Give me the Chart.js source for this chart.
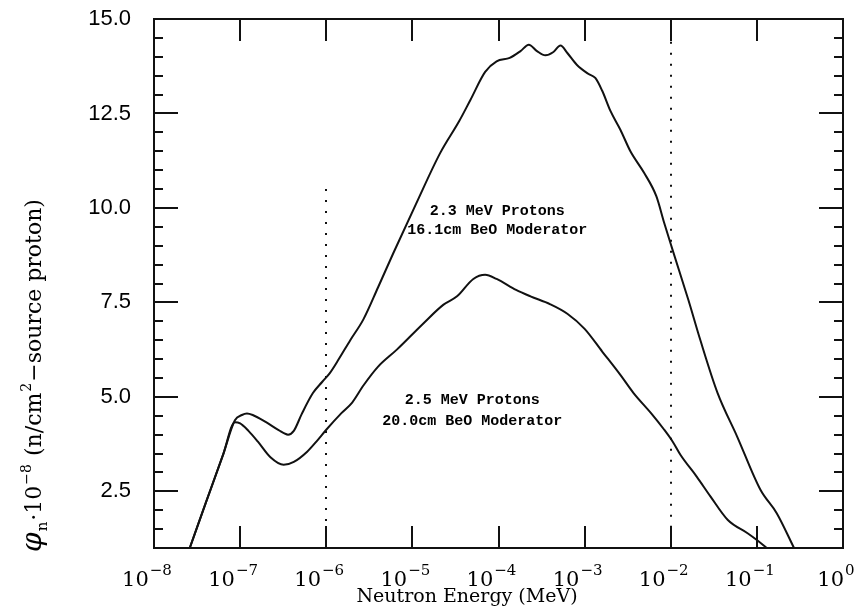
<!DOCTYPE html>
<html>
<head>
<meta charset="utf-8">
<script src="https://cdn.jsdelivr.net/npm/chart.js@4.4.1/dist/chart.umd.min.js"></script>
<style>
  body { margin: 0; background: #fff; }
  #wrap { width: 855px; height: 607px; }
</style>
</head>
<body>
<div id="wrap"><canvas id="flux" width="855" height="607"></canvas></div>
<script>
// 2.3 MeV protons, 16.1cm BeO moderator (upper curve)
const upperEnergy = [2.6e-8, 4.0e-8, 6.3e-8, 8.7e-8, 1.05e-7, 1.2e-7, 1.4e-7, 2.0e-7, 2.8e-7, 3.6e-7,
  4.2e-7, 5.2e-7, 7.0e-7, 9.0e-7, 1.1e-6, 1.4e-6, 1.9e-6, 2.7e-6, 4.0e-6, 6.0e-6,
  1.1e-5, 2.1e-5, 3.5e-5, 4.7e-5, 7.0e-5, 9.5e-5, 1.35e-4, 1.8e-4, 2.25e-4, 2.8e-4,
  3.5e-4, 4.3e-4, 5.25e-4, 6.3e-4, 8.1e-4, 1.1e-3, 1.33e-3, 1.6e-3, 2.0e-3, 2.6e-3,
  3.4e-3, 4.9e-3, 6.8e-3, 8.4e-3, 1.05e-2, 1.6e-2, 2.2e-2, 3.5e-2, 5.9e-2, 1.1e-1,
  1.7e-1, 2.7e-1];
const upperFlux = [1.0, 2.2, 3.45, 4.38, 4.52, 4.56, 4.52, 4.33, 4.12, 4.0,
  4.1, 4.55, 5.1, 5.4, 5.63, 6.0, 6.5, 7.05, 7.9, 8.8,
  10.1, 11.45, 12.3, 12.85, 13.6, 13.88, 13.97, 14.15, 14.32, 14.15,
  14.04, 14.12, 14.3, 14.1, 13.79, 13.55, 13.44, 13.1, 12.56, 12.07,
  11.5, 10.93, 10.31, 9.6, 8.89, 7.57, 6.51, 5.1, 3.95, 2.54,
  1.92, 1.0];

// 2.5 MeV protons, 20.0cm BeO moderator (lower curve)
const lowerEnergy = [2.6e-8, 4.0e-8, 6.3e-8, 8.7e-8, 1.0e-7, 1.25e-7, 1.6e-7, 2.25e-7, 3.2e-7, 4.2e-7,
  6.0e-7, 7.9e-7, 1.0e-6, 1.5e-6, 2.0e-6, 2.7e-6, 4.0e-6, 6.6e-6, 1.35e-5, 2.3e-5,
  3.3e-5, 5.1e-5, 7.0e-5, 9.5e-5, 1.6e-4, 2.35e-4, 4.0e-4, 6.3e-4, 1.0e-3, 1.6e-3,
  2.6e-3, 3.7e-3, 5.9e-3, 8.4e-3, 1.05e-2, 1.3e-2, 2.0e-2, 2.9e-2, 4.6e-2, 7.8e-2,
  1.0e-1, 1.3e-1];
const lowerFlux = [1.0, 2.2, 3.45, 4.33, 4.3, 4.1, 3.82, 3.4, 3.2, 3.28,
  3.55, 3.85, 4.13, 4.57, 4.85, 5.3, 5.8, 6.25, 6.95, 7.44,
  7.66, 8.12, 8.23, 8.12, 7.83, 7.66, 7.45, 7.2, 6.8, 6.2,
  5.58, 5.1, 4.57, 4.13, 3.82, 3.46, 2.89, 2.36, 1.74, 1.39,
  1.21, 1.0];

const yTickValues = [2.5, 5.0, 7.5, 10.0, 12.5, 15.0];
const yMinorStep = 0.5;
const xDecades = [-8, -7, -6, -5, -4, -3, -2, -1, 0];
const dottedEnergies = [1e-6, 1e-2];
const dottedTops = [10.5, 14.4];

const supDigits = { '-': '\u2212', '0': '0', '1': '1', '2': '2', '3': '3', '4': '4', '5': '5', '6': '6', '7': '7', '8': '8', '9': '9' };
const serif = '"DejaVu Serif"';

const toPoints = (xs, ys) => xs.map((x, i) => ({ x: x, y: ys[i] }));

// frame, inward ticks, dotted markers, labels drawn on top of the chart
const decorations = {
  id: 'decorations',
  beforeDatasetsDraw(chart) {
    const { ctx, chartArea: a, scales } = chart;
    ctx.save();
    ctx.strokeStyle = '#111';
    ctx.lineWidth = 2;
    ctx.setLineDash([2, 9]);
    dottedEnergies.forEach((e, i) => {
      const px = Math.round(scales.x.getPixelForValue(e));
      ctx.beginPath();
      ctx.moveTo(px, scales.y.getPixelForValue(dottedTops[i]));
      ctx.lineTo(px, a.bottom);
      ctx.stroke();
    });
    ctx.restore();
  },
  afterDraw(chart) {
    const { ctx, chartArea: a, scales } = chart;
    const xs = scales.x, ys = scales.y;
    ctx.save();
    ctx.strokeStyle = '#111';
    ctx.lineWidth = 2;
    ctx.strokeRect(a.left, a.top, a.right - a.left, a.bottom - a.top);

    ctx.beginPath();
    // y ticks left and right
    for (let v = ys.min + yMinorStep; v < ys.max; v += yMinorStep) {
      const py = Math.round(ys.getPixelForValue(v));
      const major = yTickValues.some(t => Math.abs(t - v) < 1e-6);
      const len = major ? 24 : 9;
      ctx.moveTo(a.left, py); ctx.lineTo(a.left + len, py);
      ctx.moveTo(a.right, py); ctx.lineTo(a.right - len, py);
    }
    // x ticks bottom and top
    xDecades.slice(1, -1).forEach(d => {
      const px = Math.round(xs.getPixelForValue(Math.pow(10, d)));
      ctx.moveTo(px, a.bottom); ctx.lineTo(px, a.bottom - 22);
      ctx.moveTo(px, a.top); ctx.lineTo(px, a.top + 22);
    });
    ctx.stroke();

    // x tick labels 10^n
    ctx.fillStyle = '#000';
    ctx.textBaseline = 'alphabetic';
    ctx.textAlign = 'left';
    xDecades.forEach(d => {
      const px = xs.getPixelForValue(Math.pow(10, d));
      const exp = String(d).split('').map(c => supDigits[c]).join('');
      ctx.font = '21px ' + serif;
      const w1 = ctx.measureText('10').width;
      ctx.font = '15px ' + serif;
      const w2 = ctx.measureText(exp).width;
      const x0 = px - 7 - (w1 + w2 + 1) / 2;
      ctx.font = '21px ' + serif;
      ctx.fillText('10', x0, a.bottom + 38);
      ctx.font = '15px ' + serif;
      ctx.fillText(exp, x0 + w1 + 1, a.bottom + 27);
    });

    // x axis title
    ctx.font = '19px ' + serif;
    ctx.textAlign = 'center';
    ctx.fillText('Neutron Energy (MeV)', 467, 602);

    // y axis title, pieced together for the sub/superscripts
    const parts = [
      { t: '\u03c6', f: 'italic 28px ' + serif, dy: 0 },
      { t: 'n', f: '15px ' + serif, dy: 6 },
      { t: '\u00b710', f: '22px ' + serif, dy: 0 },
      { t: '\u22128', f: '14px ' + serif, dy: -10 },
      { t: ' (n/cm', f: '22px ' + serif, dy: 0 },
      { t: '2', f: '14px ' + serif, dy: -10 },
      { t: '\u2212source proton)', f: '22px ' + serif, dy: 0 }
    ];
    let total = 0;
    parts.forEach(p => { ctx.font = p.f; p.w = ctx.measureText(p.t).width; total += p.w + 1; });
    ctx.translate(41, 375);
    ctx.rotate(-Math.PI / 2);
    ctx.textAlign = 'left';
    let cx = -total / 2;
    parts.forEach(p => { ctx.font = p.f; ctx.fillText(p.t, cx, p.dy); cx += p.w + 1; });
    ctx.setTransform(1, 0, 0, 1, 0, 0);
    ctx.scale(chart.currentDevicePixelRatio, chart.currentDevicePixelRatio);

    // curve annotations, anchored in data coordinates
    ctx.font = 'bold 15px "Liberation Mono"';
    ctx.textAlign = 'center';
    ctx.textBaseline = 'middle';
    const ax1 = xs.getPixelForValue(9.66e-5);
    ctx.fillText('2.3 MeV Protons', ax1, ys.getPixelForValue(9.9));
    ctx.fillText('16.1cm BeO Moderator', ax1, ys.getPixelForValue(9.4));
    const ax2 = xs.getPixelForValue(4.95e-5);
    ctx.fillText('2.5 MeV Protons', ax2, ys.getPixelForValue(4.92));
    ctx.fillText('20.0cm BeO Moderator', ax2, ys.getPixelForValue(4.36));
    ctx.restore();
  }
};

new Chart(document.getElementById('flux'), {
  type: 'line',
  data: {
    datasets: [{
      label: '2.3 MeV Protons, 16.1cm BeO Moderator',
      data: toPoints(upperEnergy, upperFlux),
      borderColor: '#111',
      borderWidth: 2,
      pointRadius: 0,
      cubicInterpolationMode: 'monotone',
      fill: false
    }, {
      label: '2.5 MeV Protons, 20.0cm BeO Moderator',
      data: toPoints(lowerEnergy, lowerFlux),
      borderColor: '#111',
      borderWidth: 2,
      pointRadius: 0,
      cubicInterpolationMode: 'monotone',
      fill: false
    }]
  },
  options: {
    responsive: false,
    animation: false,
    layout: { padding: { top: 19, right: 12, left: 0, bottom: 0 } },
    plugins: { legend: { display: false }, tooltip: { enabled: false } },
    scales: {
      x: {
        type: 'logarithmic',
        min: 1e-8,
        max: 1,
        grid: { display: false, drawTicks: false },
        border: { display: false },
        ticks: { display: false },
        afterFit: s => { s.height = 59; s.paddingLeft = 0; s.paddingRight = 0; }
      },
      y: {
        type: 'linear',
        min: 1,
        max: 15,
        grid: { display: false, drawTicks: false },
        border: { display: false },
        afterBuildTicks: s => { s.ticks = yTickValues.map(v => ({ value: v })); },
        ticks: {
          color: '#000',
          padding: 23,
          font: { family: 'Liberation Sans', size: 22 },
          callback: v => Number(v).toFixed(1)
        },
        // tick padding would otherwise push the plot top down
        afterFit: s => { s.width = 154; s.paddingTop = 0; s.paddingBottom = 0; }
      }
    }
  },
  plugins: [decorations]
});
</script>
</body>
</html>
